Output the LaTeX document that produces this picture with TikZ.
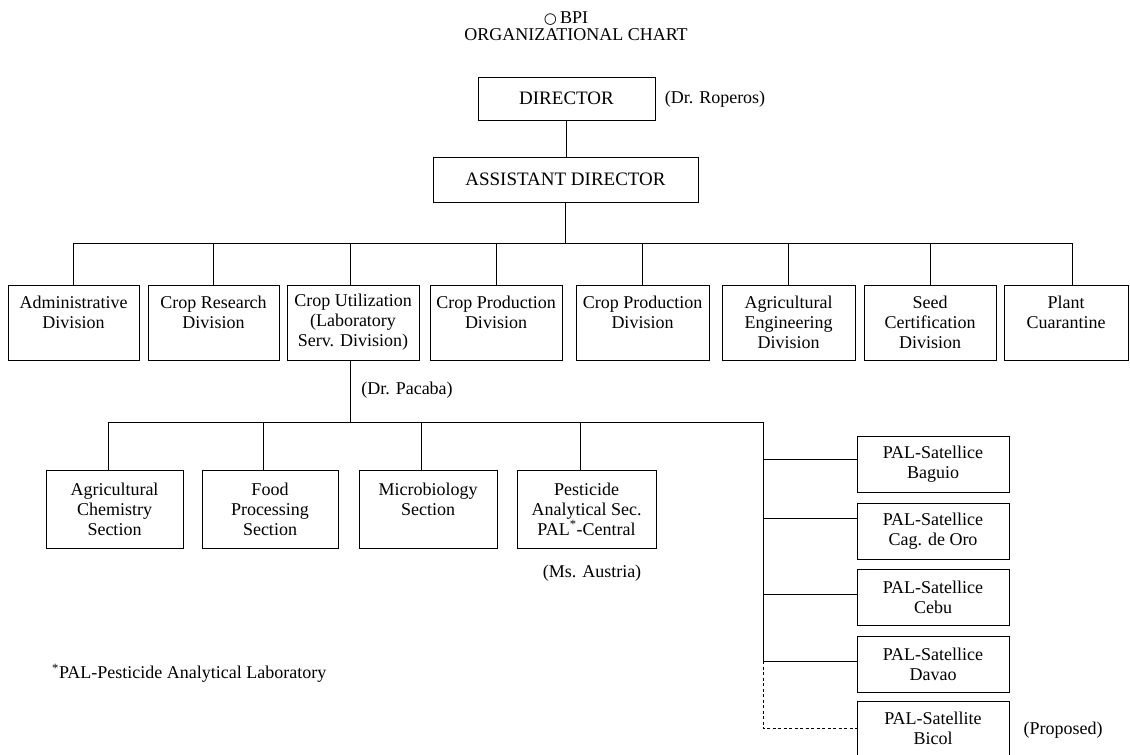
\documentclass[tikz,border=0pt]{standalone}
\usepackage{fontspec}
\setmainfont{Liberation Serif}
\newfontfamily\symfont{DejaVu Sans}
\begin{document}
\begin{tikzpicture}[x=1pt,y=-1pt,
  every node/.style={font=\fontsize{18}{20}\selectfont},
  box/.style={draw, line width=0.9pt, align=center, inner sep=0pt},
  divbox/.style={box, minimum height=75pt},
  secbox/.style={box, minimum height=78pt},
  satbox/.style={box, minimum width=152pt, minimum height=56pt},
  conn/.style={line width=0.9pt},
  prop/.style={line width=0.9pt, dash pattern=on 3pt off 2.5pt},
  lbl/.style={inner sep=0pt, align=center}]
\fill[white] (0,0) rectangle (1130,755);
\useasboundingbox (0,0) rectangle (1130,755);

% title
\node[lbl] (t1) at (566,19) {{\symfont\fontsize{15}{16}\selectfont ○}\,BPI};
\node[lbl] (t2) at (576,35) {ORGANIZATIONAL CHART};

% top
\node[box, minimum width=177pt, minimum height=43pt, font=\fontsize{19}{22}\selectfont] (dir) at (566.5,98.5) {DIRECTOR};
\node[lbl] (roperos) at (715,99) {(Dr. Roperos)};
\node[box, minimum width=265pt, minimum height=45pt, font=\fontsize{19}{22}\selectfont] (asst) at (565.5,179.5) {ASSISTANT DIRECTOR};

% divisions
\node[divbox, minimum width=131pt] (admin) at (73.5,322.5) {Administrative\\Division\\\mbox{}};
\node[divbox, minimum width=131pt] (cres) at (213.5,322.5) {Crop Research\\Division\\\mbox{}};
\node[divbox, minimum width=132pt] (cutil) at (353,322.5) {Crop Utilization\\(Laboratory\\Serv. Division)};
\node[divbox, minimum width=132pt] (cprod1) at (496,322.5) {Crop Production\\Division\\\mbox{}};
\node[divbox, minimum width=133pt] (cprod2) at (642.5,322.5) {Crop Production\\Division\\\mbox{}};
\node[divbox, minimum width=133pt] (aeng) at (788.5,322.5) {Agricultural\\Engineering\\Division};
\node[divbox, minimum width=132pt] (seed) at (930,322.5) {Seed\\Certification\\Division};
\node[divbox, minimum width=124pt] (plant) at (1066,322.5) {Plant\\Cuarantine\\\mbox{}};

\node[lbl] (pacaba) at (407,390) {(Dr. Pacaba)};

% sections
\node[secbox, minimum width=137pt] (agchem) at (114.5,509) {Agricultural\\Chemistry\\Section};
\node[secbox, minimum width=136pt] (food) at (270,509) {Food\\Processing\\Section};
\node[secbox, minimum width=138pt] (micro) at (428,509) {Microbiology\\Section\\\mbox{}};
\node[secbox, minimum width=139pt] (pest) at (586.5,509) {Pesticide\\Analytical Sec.\\PAL\textsuperscript{*}-Central};
\node[lbl] (austria) at (592,573) {(Ms. Austria)};

% satellites
\node[satbox] (baguio) at (933,464.5) {PAL-Satellice\\Baguio};
\node[satbox] (cag) at (933,531) {PAL-Satellice\\Cag. de Oro};
\node[satbox] (cebu) at (933,597) {PAL-Satellice\\Cebu};
\node[satbox] (davao) at (933,664) {PAL-Satellice\\Davao};
\node[satbox, minimum height=54pt] (bicol) at (933,728.5) {PAL-Satellite\\Bicol};
\node[lbl] (proposed) at (1063,730) {(Proposed)};

\node[lbl, anchor=west] (foot) at (52,673) {\textsuperscript{*}PAL-Pesticide Analytical Laboratory};

% connectors: top
\draw[conn] (dir.south) -- (dir.south |- asst.north);
\coordinate (bus) at (0,243);
\draw[conn] (asst.south) -- (asst.south |- bus);
\draw[conn] (admin.north |- bus) -- ([xshift=6pt]plant.north |- bus);
\foreach \n in {admin,cres,cprod1,cprod2,aeng,seed}
  \draw[conn] (\n.north |- bus) -- (\n.north);
\draw[conn] ([xshift=-3pt]cutil.north |- bus) -- ([xshift=-3pt]cutil.north);
\draw[conn] ([xshift=6pt]plant.north |- bus) -- ([xshift=6pt]plant.north);

% connectors: sections
\coordinate (sub) at (0,422);
\coordinate (satv) at (763,422);
\draw[conn] ([xshift=-3pt]cutil.south) -- ([xshift=-3pt]cutil.south |- sub);
\draw[conn] ([xshift=-6.5pt]agchem.north |- sub) -- (satv);
\foreach \n in {agchem,food,micro,pest}
  \draw[conn] ([xshift=-6.5pt]\n.north |- sub) -- ([xshift=-6.5pt]\n.north);

% connectors: satellites
\coordinate (cb) at ([yshift=5.5pt]baguio.west);
\coordinate (cc) at ([yshift=13pt]cag.west);
\coordinate (ce) at ([yshift=3pt]cebu.west);
\coordinate (cd) at ([yshift=3pt]davao.west);
\draw[conn] (satv) -- (satv |- cd);
\foreach \c in {cb,cc,ce,cd}
  \draw[conn] (satv |- \c) -- (\c);
\draw[prop] (satv |- cd) -- (satv |- bicol.west) -- (bicol.west);
\end{tikzpicture}
\end{document}
